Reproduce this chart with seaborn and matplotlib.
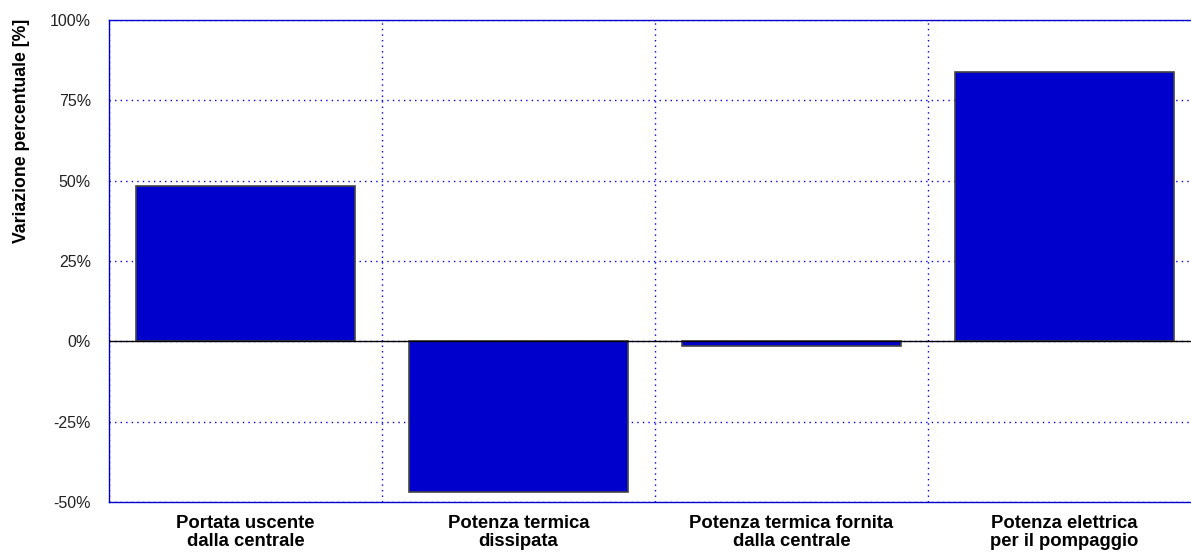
import matplotlib
matplotlib.use("Agg")
import matplotlib.pyplot as plt
import seaborn as sns
import pandas as pd
import numpy as np
from matplotlib.ticker import FixedLocator, FuncFormatter

categories = ["Portata uscente\ndalla centrale", "Potenza termica\ndissipata",
              "Potenza termica fornita\ndalla centrale", "Potenza elettrica\nper il pompaggio"]
values = [48.3, -47.0, -1.3, 83.8]
y_ticks = [-50, -25, 0, 25, 50, 75, 100]

sns.set_theme(style="white")
plt.rcParams['font.family'] = ['Liberation Sans', 'DejaVu Sans']

df = pd.DataFrame({"cat": categories, "val": values})

fig = plt.figure(figsize=(11.91, 5.54), dpi=100)
ax = fig.add_axes([109/1191, 52/554, 1092/1191, 482/554])

sns.barplot(data=df, x="cat", y="val", ax=ax, color="#0000CC", saturation=1,
            width=0.8, edgecolor="#444444", linewidth=1.2, zorder=3)

ax.set_xlim(-0.5, 3.5)
ax.set_ylim(-50, 100)
ax.set_yticks(y_ticks)
ax.yaxis.set_major_formatter(FuncFormatter(lambda v, p: f"{int(v)}%"))
ax.xaxis.set_minor_locator(FixedLocator(np.arange(-0.5, 4.0, 1.0)))

ax.grid(False)
ax.grid(axis="y", which="major", color="#0000EE", linestyle=(0, (1, 3)), linewidth=1, zorder=1)
ax.grid(axis="x", which="minor", color="#0000EE", linestyle=(0, (1, 3)), linewidth=1, zorder=1)
ax.axhline(0, color="black", linewidth=1, zorder=4)

for s in ax.spines.values():
    s.set_color("#0000CC")
    s.set_linewidth(1)
    s.set_visible(True)

ax.tick_params(axis="y", which="major", direction="in", length=4, color="#0000CC",
               labelsize=11.5, labelcolor="#222222", pad=13)
ax.tick_params(axis="x", which="major", length=0, labelsize=13.3, pad=9)
ax.tick_params(axis="x", which="minor", direction="in", length=6, color="#0000CC")
for lbl in ax.get_xticklabels():
    lbl.set_fontweight("bold")
    lbl.set_color("black")
    lbl.set_linespacing(1.15)

ax.set_xlabel("")
ax.set_ylabel("Variazione percentuale [%]", fontsize=12.7, fontweight="bold",
              va="center", color="black")
ax.yaxis.set_label_coords(-0.08, 0.769)

fig.savefig("out.png", dpi=100, facecolor="white")
